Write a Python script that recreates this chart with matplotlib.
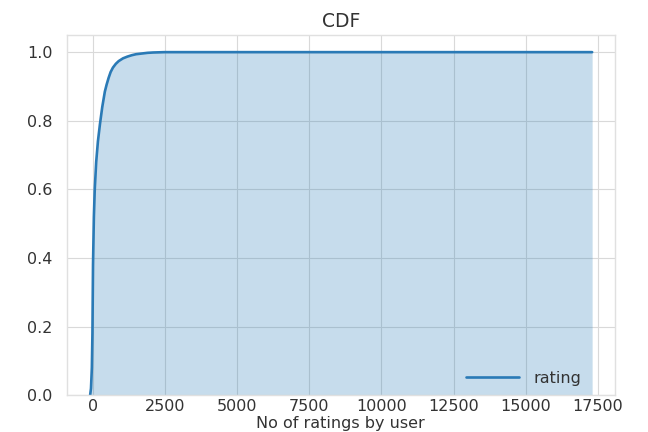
import matplotlib
matplotlib.use("Agg")
import matplotlib.pyplot as plt
import numpy as np

# CDF of number of ratings per user
n_ratings = [-90, -60, -30, -10, 10, 40, 70, 120, 180, 250, 330, 420, 480,
             550, 620, 700, 800, 900, 1050, 1200, 1350, 1500, 1700, 1900,
             2100, 2500, 17300]
cdf = [0.0, 0.02, 0.08, 0.18, 0.38, 0.52, 0.60, 0.68, 0.74, 0.79, 0.84, 0.885,
       0.905, 0.925, 0.942, 0.955, 0.966, 0.974, 0.982, 0.987, 0.991, 0.994,
       0.996, 0.998, 0.999, 1.0, 1.0]
xticks = np.arange(0, 17501, 2500)
yticks = [0.0, 0.2, 0.4, 0.6, 0.8, 1.0]

plt.style.use("seaborn-v0_8-whitegrid")
plt.rcParams["font.family"] = ["DejaVu Sans"]
plt.rcParams["text.color"] = "#333333"
plt.rcParams["xtick.color"] = "#333333"
plt.rcParams["ytick.color"] = "#333333"
plt.rcParams["axes.labelcolor"] = "#333333"

fig = plt.figure(figsize=(6.48, 4.32), dpi=100)
ax = fig.add_axes([0.103, 0.085, 0.846, 0.834])

ax.plot(n_ratings, cdf, color="#2a7ab6", lw=1.9, label="rating")
ax.fill_between(n_ratings, cdf, color="#1f77b4", alpha=0.25, lw=0)

ax.set_xlim(-900, 18090)
ax.set_ylim(0, 1.05)
ax.set_xticks(xticks)
ax.set_yticks(yticks)
ax.tick_params(labelsize=11.5)
ax.tick_params(axis="y", pad=10)
ax.tick_params(axis="x", pad=3)
ax.grid(color="#d9d9d9")
for s in ax.spines.values():
    s.set_visible(True)
    s.set_color("#e0e0e0")

ax.set_title("CDF", fontsize=13.5, pad=6)
ax.set_xlabel("No of ratings by user", fontsize=11.5, labelpad=1)
ax.legend(loc="lower right", bbox_to_anchor=(0.95, 0.008), borderaxespad=0,
          fontsize=11.5, frameon=False, handlelength=3.3, handletextpad=0.9)

fig.savefig("out.png")
